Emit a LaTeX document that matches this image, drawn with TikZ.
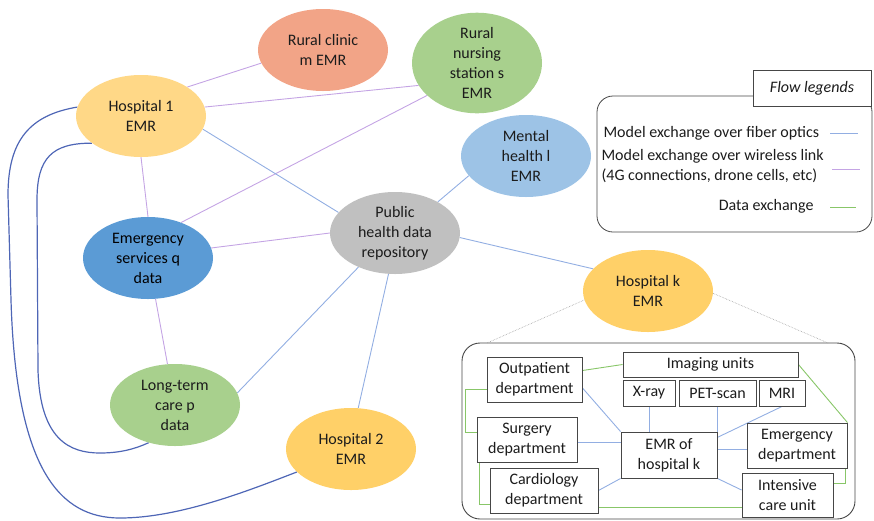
\documentclass[tikz,border=0pt]{standalone}
\usepackage{fontspec}
\setmainfont{Carlito}
\usetikzlibrary{shapes.geometric,backgrounds}

\definecolor{fiber}{RGB}{146,174,226}
\definecolor{wireless}{RGB}{196,164,228}
\definecolor{dataex}{RGB}{136,198,104}
\definecolor{trunk}{RGB}{78,102,182}
\definecolor{ink}{RGB}{28,28,28}
\definecolor{frame}{RGB}{70,70,70}
\definecolor{hospA}{RGB}{255,216,135}
\definecolor{hospB}{RGB}{255,208,104}
\definecolor{clinic}{RGB}{242,164,135}
\definecolor{leaf}{RGB}{168,208,141}
\definecolor{mental}{RGB}{157,195,230}
\definecolor{emerg}{RGB}{91,155,213}
\definecolor{repo}{RGB}{192,192,192}

\tikzset{
  txt/.style={font=\fontsize{16}{20}\selectfont, text=ink, align=center},
  site/.style={txt, ellipse, inner sep=0pt, minimum width=130pt, minimum height=82pt},
  unit/.style={txt, draw=frame, line width=0.9pt, fill=white, rectangle, inner sep=0pt},
  fiberln/.style={draw=fiber, line width=0.9pt},
  wireln/.style={draw=wireless, line width=0.9pt},
  dataln/.style={draw=dataex, line width=0.9pt},
  trunkln/.style={draw=trunk, line width=1.2pt},
  zoomln/.style={draw=gray!75, line width=0.6pt, densely dotted},
}

\begin{document}
\begin{tikzpicture}[x=1pt,y=-1pt]
\useasboundingbox (0,0) rectangle (874,520);

% ---- network sites ----
\node[site, fill=clinic] (rc) at (323,50) {Rural clinic\\m EMR};
\node[site, fill=leaf]   (rn) at (477,63) {Rural\\nursing\\station s\\EMR};
\node[site, fill=hospA]  (h1) at (141,116) {Hospital 1\\EMR};
\node[site, fill=mental] (mh) at (526,156) {Mental\\health l\\EMR};
\node[site, fill=repo]   (pub) at (395,233) {Public\\health data\\repository};
\node[site, fill=emerg, text={RGB:red,222;green,235;blue,247}] (em) at (148,258) {Emergency\\services q\\data};
\node[site, fill=hospB]  (hk) at (648,291) {Hospital k\\EMR};
\node[site, fill=leaf]   (lt) at (175,405) {Long-term\\care p\\data};
\node[site, fill=hospB]  (h2) at (351,449) {Hospital 2\\EMR};

% ---- links between sites ----
\begin{scope}[on background layer]
  \draw[wireln] (h1.32) -- (rc.192);
  \draw[wireln] (h1.8) -- (rn.201);
  \draw[wireln] (h1.270) -- (em.90);
  \draw[wireln] (em.47) -- (rn.213);
  \draw[wireln] (em.9) -- (pub.180);
  \draw[wireln] (em) -- (lt);
  \draw[fiberln] (h1.-12) -- (pub.160);
  \draw[fiberln] (pub.36) -- (mh.199);
  \draw[fiberln] (pub.-4) -- (hk.158);
  \draw[fiberln] (pub.223) -- (lt.11);
  \draw[fiberln] (pub.261) -- (h2.80);
  % long-haul fiber routes along the left edge
  \draw[trunkln] (h1.172) .. controls (30,115) and (8,140) .. (8,195)
      -- (11,300) .. controls (16,470) and (60,518) .. (120,518)
      .. controls (180,518) and (250,490) .. (h2.203);
  \draw[trunkln] (h1.209) .. controls (52,143) and (37,158) .. (37,200)
      -- (38,370) .. controls (40,440) and (70,453) .. (100,453)
      .. controls (120,453) and (135,449) .. (lt.235);
\end{scope}

% ---- legend ----
\node[draw=frame, line width=0.8pt, rounded corners=16pt, minimum width=275pt, minimum height=136pt, inner sep=0pt] (leg) at (734.5,164) {};
\node[txt, draw=frame, line width=0.8pt, fill=white, minimum width=118pt, minimum height=36pt, inner sep=0pt, font=\fontsize{16}{20}\selectfont\itshape] (legt) at (812,88) {Flow legends};
\node[txt, anchor=west, align=left] (lf) at (600,133) {Model exchange over fiber optics};
\node[txt, anchor=west, align=left] (lw) at (598,166.5) {Model exchange over wireless link\\(4G connections, drone cells, etc)};
\node[txt, anchor=east] (ld) at (817,206) {Data exchange};
\coordinate (lfa) at (830,133);  \coordinate (lfb) at (858,133);
\coordinate (lwa) at (832,169);  \coordinate (lwb) at (860,169);
\coordinate (lda) at (830,207);  \coordinate (ldb) at (856,207);
\draw[fiberln] (lfa) -- (lfb);
\draw[wireln] (lwa) -- (lwb);
\draw[dataln] (lda) -- (ldb);

% ---- inside hospital k ----
\node[draw=frame, line width=0.9pt, rounded corners=18pt, minimum width=393pt, minimum height=176pt, inner sep=0pt] (inset) at (658.5,431) {};
\coordinate (insl) at (487,343);
\coordinate (insr) at (828,343);
\draw[zoomln] (hk.188) -- (insl);
\draw[zoomln] (hk.-2) -- (insr);

\node[unit, minimum width=95pt,  minimum height=45pt] (out)  at (534.5,379.5) {Outpatient\\department};
\node[unit, minimum width=100pt, minimum height=45pt] (sur)  at (527,439.5)   {Surgery\\department};
\node[unit, minimum width=108pt, minimum height=45pt] (car)  at (544,490.5)   {Cardiology\\department};
\node[unit, minimum width=175pt, minimum height=25pt] (img)  at (710.5,364.5) {Imaging units};
\node[unit, minimum width=52pt,  minimum height=26pt] (xray) at (649,393)     {X-ray};
\node[unit, minimum width=77pt,  minimum height=26pt] (pet)  at (717.5,393)   {PET-scan};
\node[unit, minimum width=46pt,  minimum height=26pt] (mri)  at (782,393)     {MRI};
\node[unit, minimum width=96pt,  minimum height=46pt] (emr)  at (669,455)     {EMR of\\hospital k};
\node[unit, minimum width=100pt, minimum height=45pt] (edp)  at (797,445.5)   {Emergency\\department};
\node[unit, minimum width=91pt,  minimum height=44pt] (icu)  at (787.5,495)   {Intensive\\care unit};

\begin{scope}[on background layer]
  % departmental links to the hospital EMR
  \draw[fiberln] (out.-10) -- (emr.north west);
  \draw[fiberln] ([yshift=-3pt]sur.east) -- ([yshift=-3pt]sur.east -| emr.west);
  \draw[fiberln] (car.east) -- (emr.south west);
  \draw[fiberln] (xray.south) -- (xray.south |- emr.north);
  \draw[fiberln] (pet.south) -- (pet.south |- emr.north);
  \draw[fiberln] (mri.south) -- (emr.20);
  \draw[fiberln] ([yshift=-4pt]edp.west) -- ([yshift=-4pt]edp.west -| emr.east);
  \draw[fiberln] (emr.south east) -- ([yshift=5pt]icu.west);
  % data exchange between departments
  \draw[dataln] ([yshift=9pt]out.east) -- (img.west);
  \draw[dataln] ([yshift=-10pt]out.west) -- ++(-21,0) |- ([yshift=7pt]sur.west);
  \draw[dataln] ([xshift=3pt]sur.south west) |- ([yshift=-14pt]car.west);
  \draw[dataln] ([yshift=-17pt]car.east) -- ([yshift=-17pt]car.east -| icu.west);
  \draw[dataln] (img.east) -- (edp.north east);
  \draw[dataln] ([xshift=-2pt]edp.south east) |- ([yshift=12pt]icu.east);
\end{scope}
\end{tikzpicture}
\end{document}
